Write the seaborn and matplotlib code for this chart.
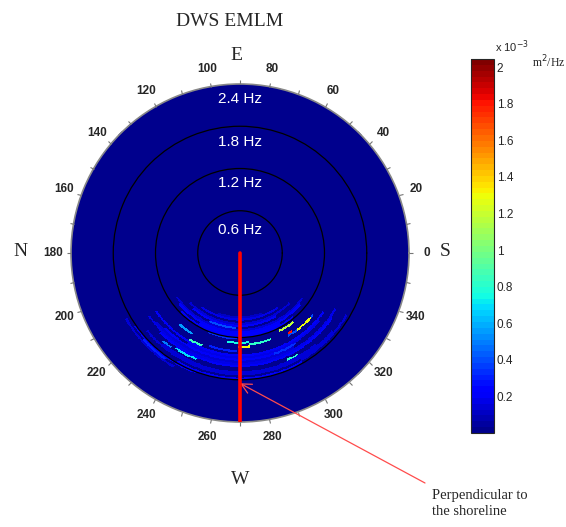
import numpy as np
import seaborn as sns
import matplotlib
import matplotlib.pyplot as plt
from matplotlib.colors import ListedColormap
from matplotlib.ticker import FuncFormatter

# directional spectrum features (EMLM estimate), energy in 1e-3 m^2/Hz
arc_freq = [1.35, 1.24, 1.33, 1.27, 1.33, 1.30, 1.32, 1.41, 1.64, 1.65, 1.65,
            1.06, 1.22, 1.40, 1.36, 1.52, 1.85,
            0.95, 1.00, 1.12, 1.16, 1.45, 1.50, 1.58, 1.72, 1.78,
            0.90, 1.03, 1.09, 1.19, 1.48, 1.55, 1.61, 1.68, 1.82, 1.88, 1.75]
arc_dir_from = [307, 297, 301, 262, 269, 276, 230, 240, 236, 229, 294,
                246, 248, 252, 300, 289, 222,
                235, 225, 220, 240, 215, 225, 215, 220, 240,
                250, 230, 215, 225, 240, 220, 225, 230, 215, 210, 300]
arc_dir_to = [318, 308, 304, 276, 276, 290, 240, 248, 248, 234, 300,
              267, 268, 268, 320, 302, 235,
              305, 315, 320, 300, 325, 290, 330, 320, 300,
              290, 300, 325, 310, 320, 300, 325, 310, 250, 240, 330]
arc_level = [1.30, 1.15, 1.80, 0.75, 1.30, 0.80, 0.55, 0.85, 0.70, 0.50, 0.80,
             0.40, 0.35, 0.30, 0.40, 0.35, 0.30,
             0.18, 0.15, 0.22, 0.25, 0.20, 0.22, 0.18, 0.15, 0.20,
             0.12, 0.20, 0.15, 0.20, 0.18, 0.15, 0.20, 0.15, 0.20, 0.15, 0.15]

ring_freqs = [0.6, 1.2, 1.8, 2.4]
ring_label_r = [0.33, 0.99, 1.57, 2.19]
cbar_ticks = [0.2, 0.4, 0.6, 0.8, 1.0, 1.2, 1.4, 1.6, 1.8, 2.0]
e_max = 2.044
f_max = 2.4
df = 0.03

# spectrum grid
f_edges = np.arange(0, f_max + df / 2, df)
d_edges = np.arange(0, 361, 1)
E = np.zeros((len(f_edges) - 1, len(d_edges) - 1))
for f, a, b, lv in zip(arc_freq, arc_dir_from, arc_dir_to, arc_level):
    i = int(f / df)
    E[i, a:b] = np.maximum(E[i, a:b], lv)

sns.set_theme(style='white')
plt.rcParams['font.family'] = ['Liberation Sans', 'DejaVu Sans']

jet = matplotlib.colormaps['jet']
cmap = ListedColormap(jet(np.linspace(0.014, 1, 64)))

W, H = 566, 527
fig = plt.figure(figsize=(W / 100, H / 100), dpi=100)

cx, cy, R = 240, 253, 169
ax = fig.add_axes([(cx - R) / W, (H - cy - R) / H, 2 * R / W, 2 * R / H], projection='polar')
T, Rg = np.meshgrid(np.deg2rad(d_edges), f_edges)
mesh = ax.pcolormesh(T, Rg, E, cmap=cmap, vmin=0, vmax=e_max, shading='flat', rasterized=True)
ax.set_ylim(0, f_max)
ax.set_axisbelow(False)
ax.set_yticks(ring_freqs[:-1])
ax.set_yticklabels([])
ax.yaxis.grid(True, color='black', lw=0.9)
ax.xaxis.grid(False)
ax.set_xticks(np.deg2rad(np.arange(0, 360, 20)))
ax.set_xticklabels([str(d) for d in range(0, 360, 20)], fontsize=8.5, fontweight='bold')
ax.set_xticks(np.deg2rad(np.arange(10, 360, 20)), minor=True)
ax.tick_params(axis='x', which='both', bottom=False, top=True, direction='out',
               length=3, width=0.8, color='#777777', pad=3)
ax.spines['polar'].set_color('#888888')
ax.spines['polar'].set_linewidth(1.2)

for lab, r in zip(ring_freqs, ring_label_r):
    ax.text(np.pi / 2, r, f'{lab} Hz', color='white', fontsize=11, ha='center', va='center')

# shoreline normal
ax.plot([1.5 * np.pi, 1.5 * np.pi], [0, f_max], color='red', lw=2.6, zorder=5)
ax.annotate('', xy=(1.5 * np.pi, 1.85), xytext=(425, H - 483), textcoords='figure pixels',
            arrowprops=dict(arrowstyle='->,head_length=0.6,head_width=0.3', color='#ff4c4c',
                            lw=0.9, shrinkA=0, shrinkB=0))

serif = ['Liberation Serif', 'DejaVu Serif']
fig.text(230 / W, 1 - 22 / H, 'DWS EMLM', family=serif, fontsize=14, ha='center', va='center')
fig.text(236 / W, 1 - 55 / H, 'E', family=serif, fontsize=14, ha='center', va='center')
fig.text(20 / W, 1 - 252 / H, 'N', family=serif, fontsize=14, ha='center', va='center')
fig.text(445 / W, 1 - 252 / H, 'S', family=serif, fontsize=14, ha='center', va='center')
fig.text(240 / W, 1 - 480 / H, 'W', family=serif, fontsize=14, ha='center', va='center')
fig.text(432 / W, 1 - 489 / H, 'Perpendicular to\nthe shoreline', family=serif, fontsize=10.5,
         ha='left', va='top', linespacing=1.3)

# colorbar
cax = fig.add_axes([471 / W, (H - 433) / H, 23 / W, 374 / H])
cb = fig.colorbar(mesh, cax=cax, ticks=cbar_ticks)
cb.outline.set_linewidth(0.8)
cb.ax.tick_params(direction='in', length=3, width=0.8, color='#333333', left=True, right=True,
                  labelsize=8.5, pad=2)
cb.ax.yaxis.set_major_formatter(FuncFormatter(lambda v, p: f'{v:g}'))
fig.text(495 / W, 1 - 47 / H, 'x 10$^{-3}$', fontsize=8, ha='left', va='center')
fig.text(532 / W, 1 - 62 / H, 'm$^2$/Hz', family=serif, fontsize=8.5, ha='left', va='center')

fig.savefig('out.png', dpi=100)
